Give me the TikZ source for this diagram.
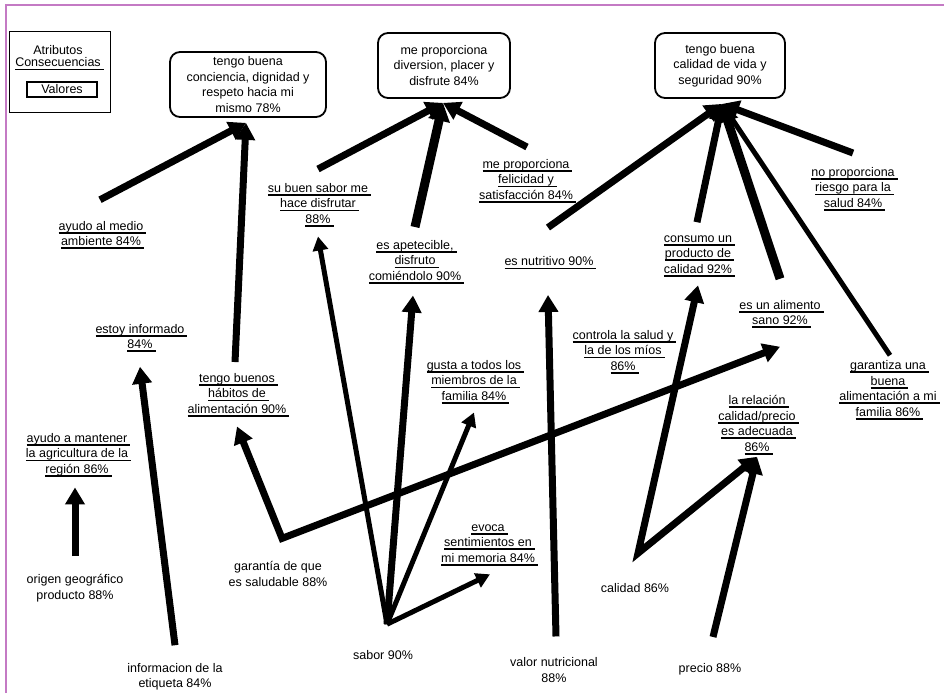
\documentclass[tikz,border=0pt]{standalone}
\usepackage{fontspec}
\setmainfont{Liberation Sans}
\usetikzlibrary{arrows.meta, positioning}

\definecolor{framepink}{RGB}{196,122,196}
\newcommand{\ulin}[1]{\setbox0=\hbox{#1}\rlap{\rule[-3.5pt]{\dimexpr\wd0+3pt\relax}{1.7pt}}\box0}

\begin{document}
\begin{tikzpicture}[x=1pt, y=-1pt,
	every node/.style={font=\fontsize{12.5}{15.5}\selectfont, align=center, inner sep=1pt},
	valuebox/.style={draw, rounded corners=10pt, line width=1.8pt, minimum height=65pt},
	link/.style={line width=7pt, -{Triangle[length=17pt,width=19pt]}},
	thin link/.style={line width=5pt, -{Triangle[length=14pt,width=15pt]}},
	heavy link/.style={line width=9pt, -{Triangle[length=18pt,width=21pt]}},
	twin link/.style={line width=7pt, line join=miter,
		{Triangle[length=17pt,width=19pt]}-{Triangle[length=17pt,width=19pt]}}]
	\useasboundingbox (0,0) rectangle (944,693);
	\draw[framepink, line width=2pt] (6,693) -- (6,5) -- (944,5);

	% legend
	\node[draw, line width=1pt, minimum width=101pt, minimum height=80pt] (legend) at (59.5,72) {};
	\node (atrib) at (58,50) {Atributos};
	\node (conse) at (58,64) {\ulin{Consecuencias}};
	\node[draw, line width=1.5pt, minimum width=70pt, minimum height=15pt] (valores) at (62,89.5) {Valores};

	% values
	\node[valuebox, minimum width=156pt] (conciencia) at (248,84.5)
		{tengo buena\\conciencia, dignidad y\\respeto hacia mi\\mismo 78\%};
	\node[valuebox, minimum width=132pt] (diversion) at (444,65.5)
		{me proporciona\\diversion, placer y\\disfrute 84\%};
	\node[valuebox, minimum width=130pt] (calidadvida) at (720,65.5)
		{tengo buena\\calidad de vida y\\seguridad 90\%};
	\coordinate (c1) at ([xshift=-2pt,yshift=-5pt]conciencia.south);
	\coordinate (c2) at ([xshift=-1pt,yshift=-4pt]diversion.south);
	\coordinate (c3) at ([xshift=2pt,yshift=-5pt]calidadvida.south);

	% consequences
	\node (medio) at (101,235) {\ulin{ayudo al medio}\\\ulin{ambiente 84\%}};
	\node (buensabor) at (318,205) {\ulin{su buen sabor me}\\\ulin{hace disfrutar}\\\ulin{88\%}};
	\node (apetecible) at (415,262) {\ulin{es apetecible,}\\\ulin{disfruto}\\\ulin{comiéndolo 90\%}};
	\node (felicidad) at (526,181) {\ulin{me proporciona}\\\ulin{felicidad y}\\\ulin{satisfacción 84\%}};
	\node (nutritivo) at (549,263) {\ulin{es nutritivo 90\%}};
	\node (consumo) at (698,256) {\ulin{consumo un}\\\ulin{producto de}\\\ulin{calidad 92\%}};
	\node (riesgo) at (853,189) {\ulin{no proporciona}\\\ulin{riesgo para la}\\\ulin{salud 84\%}};
	\node (sano) at (780,314) {\ulin{es un alimento}\\\ulin{sano 92\%}};
	\node (informado) at (140,338) {\ulin{estoy informado}\\\ulin{84\%}};
	\node (habitos) at (237,395) {\ulin{tengo buenos}\\\ulin{hábitos de}\\\ulin{alimentación 90\%}};
	\node (gusta) at (474,382) {\ulin{gusta a todos los}\\\ulin{miembros de la}\\\ulin{familia 84\%}};
	\node (controla) at (623,352) {\ulin{controla la salud y}\\\ulin{la de los míos}\\\ulin{86\%}};
	\node (garantiza) at (888,390) {\ulin{garantiza una}\\\ulin{buena}\\\ulin{alimentación a mi}\\\ulin{familia 86\%}};
	\node (relacion) at (757,425) {\ulin{la relación}\\\ulin{calidad/precio}\\\ulin{es adecuada}\\\ulin{86\%}};
	\node (mantener) at (77,455) {\ulin{ayudo a mantener}\\\ulin{la agricultura de la}\\\ulin{región 86\%}};
	\node (evoca) at (488,545) {\ulin{evoca}\\\ulin{sentimientos en}\\\ulin{mi memoria 84\%}};

	% attributes
	\node (origen) at (75,588) {origen geográfico\\producto 88\%};
	\node (etiqueta) at (175,677) {informacion de la\\etiqueta 84\%};
	\node (garantia) at (278,574) {garantía de que\\es saludable 88\%};
	\node (sabor) at (383,655) {sabor 90\%};
	\node (valor) at (554,670) {valor nutricional\\88\%};
	\node (calidad) at (635,588) {calidad 86\%};
	\node (precio) at (710,669) {precio 88\%};
	\coordinate (gv) at ([xshift=4pt,yshift=22pt]garantia.north);
	\coordinate (sv) at ([xshift=4pt,yshift=25pt]sabor.north);
	\coordinate (cv) at ([xshift=3pt,yshift=29pt]calidad.north);

	% consequences -> values
	\draw[link] ([xshift=-1pt,yshift=20pt]medio.north) -- (c1);
	\draw[link] ([xshift=-2pt,yshift=10pt]habitos.north) -- (c1);
	\draw[link] ([yshift=13pt]buensabor.north) -- (c2);
	\draw[heavy link] ([yshift=12pt]apetecible.north) -- (c2);
	\draw[link] ([xshift=1pt,yshift=11pt]felicidad.north) -- (c2);
	\draw[link] ([xshift=-1pt,yshift=28pt]nutritivo.north) -- (c3);
	\draw[link] ([xshift=-1pt,yshift=12pt]consumo.north) -- (c3);
	\draw[heavy link] ([yshift=20pt]sano.north) -- (c3);
	\draw[thin link] ([xshift=2pt,yshift=4pt]garantiza.north) -- (c3);
	\draw[link] ([yshift=13pt]riesgo.north) -- (c3);

	% attributes -> consequences
	\draw[link] ([yshift=17pt]origen.north) -- ([xshift=-2pt,yshift=-9.5pt]mantener.south);
	\draw[link] ([yshift=17pt]etiqueta.north) -- ([yshift=-13.5pt]informado.south);
	\draw[twin link] ([yshift=-8.5pt]habitos.south) -- (gv) -- ([yshift=-17.5pt]sano.south);
	\draw[thin link] (sv) -- ([yshift=-8.5pt]buensabor.south);
	\draw[link] (sv) -- ([xshift=-2pt,yshift=-10.5pt]apetecible.south);
	\draw[thin link] (sv) -- ([yshift=-7.5pt]gusta.south);
	\draw[thin link] (sv) -- ([xshift=2pt,yshift=-7.5pt]evoca.south);
	\draw[link] ([xshift=2pt,yshift=20pt]valor.north) -- ([xshift=-1pt,yshift=-24.5pt]nutritivo.south);
	\draw[twin link] ([yshift=-7.5pt]consumo.south) -- (cv) -- ([yshift=-1pt]relacion.south);
	\draw[link] ([xshift=3pt,yshift=25pt]precio.north) -- ([yshift=-1pt]relacion.south);
\end{tikzpicture}
\end{document}
